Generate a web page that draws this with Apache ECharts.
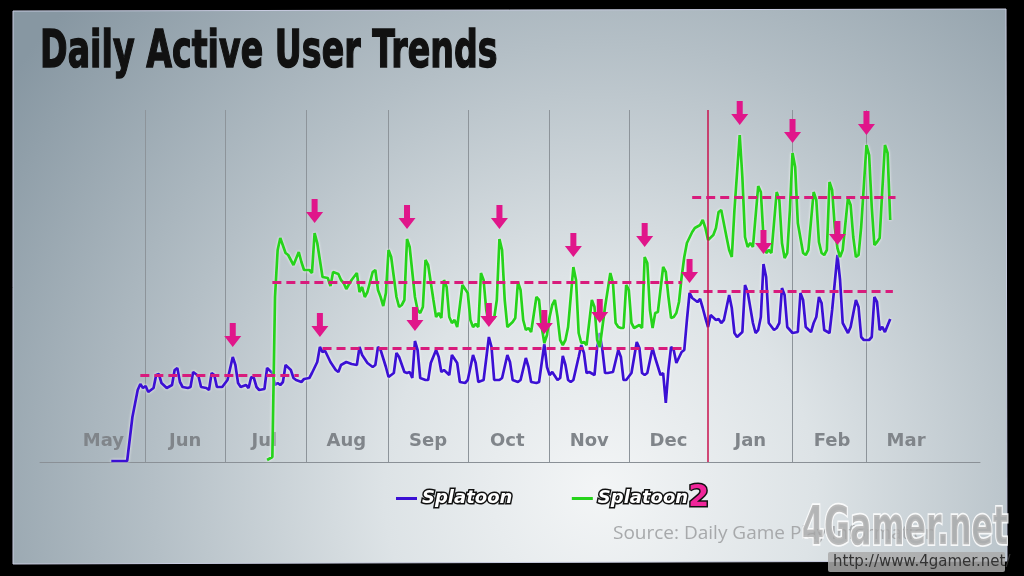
<!DOCTYPE html>
<html>
<head>
<meta charset="utf-8">
<script src="https://cdn.jsdelivr.net/npm/echarts@6/dist/echarts.min.js"></script>
<style>
html,body{margin:0;padding:0;background:#000;}
#chart{width:1024px;height:576px;}
</style>
</head>
<body>
<div id="chart"></div>
<script>
// ---- axis domain: one category per day, starting 2017-04-22 ----
const START_DATE = '2017-04-22';
const DAY_COUNT = 357;
const categories = [];
(function () {
  const t0 = Date.parse(START_DATE + 'T00:00:00Z');
  for (let i = 0; i < DAY_COUNT; i++) {
    categories.push(new Date(t0 + i * 86400000).toISOString().slice(0, 10));
  }
})();

// ---- tick labels (centred mid-month) and month boundary lines ----
const monthLabels = ['May', 'Jun', 'Jul', 'Aug', 'Sep', 'Oct', 'Nov', 'Dec', 'Jan', 'Feb', 'Mar'];
const labelDates = ['2017-05-16', '2017-06-16', '2017-07-16', '2017-08-16', '2017-09-16', '2017-10-16',
  '2017-11-16', '2017-12-16', '2018-01-16', '2018-02-16', '2018-03-16'];
const monthLineDates = ['2017-06-01', '2017-07-01', '2017-08-01', '2017-09-01', '2017-10-01',
  '2017-11-01', '2017-12-01', '2018-02-01', '2018-03-01'];
const yearLineDate = '2017-12-31';

// ---- DAU (relative index), as [day offset from START_DATE, value] ----
const splatoonDAU = [
  [27, 1], [33, 1], [35, 45], [37, 72], [38, 78], [39, 74], [40, 76], [41, 70], [43, 74], [44, 87], [45, 88],
  [46, 79], [48, 74], [50, 77], [51, 92], [52, 94], [53, 80], [54, 75], [56, 74], [57, 75], [58, 90], [60, 86],
  [61, 75], [63, 74], [64, 72], [65, 89], [66, 87], [67, 75], [69, 75], [71, 82], [73, 105], [74, 97], [75, 79],
  [76, 75], [78, 77], [79, 74], [80, 85], [81, 84], [82, 75], [83, 72], [85, 73], [86, 94], [88, 89], [89, 77],
  [90, 79], [91, 77], [92, 80], [93, 97], [95, 92], [96, 84], [97, 82], [99, 80], [100, 83], [102, 84], [103, 89],
  [105, 100], [106, 115], [107, 110], [108, 111], [110, 100], [112, 92], [113, 90], [114, 97], [116, 100],
  [118, 98], [120, 97], [121, 115], [122, 107], [124, 99], [126, 95], [127, 97], [128, 115], [129, 112],
  [131, 95], [132, 85], [134, 89], [135, 109], [136, 105], [138, 90], [139, 89], [140, 90], [141, 84],
  [142, 121], [143, 112], [144, 84], [146, 82], [147, 82], [148, 99], [150, 112], [151, 105], [152, 90],
  [153, 92], [155, 87], [156, 107], [158, 99], [159, 80], [161, 79], [162, 82], [164, 107], [165, 99],
  [166, 80], [168, 82], [170, 125], [171, 115], [172, 82], [174, 82], [175, 84], [177, 107], [178, 100],
  [179, 82], [181, 80], [182, 82], [184, 104], [185, 95], [186, 80], [188, 79], [189, 80], [191, 118],
  [192, 95], [193, 87], [194, 90], [196, 82], [197, 84], [198, 106], [199, 97], [200, 82], [201, 80],
  [202, 82], [204, 105], [205, 117], [206, 109], [207, 89], [208, 90], [210, 87], [211, 115], [212, 129],
  [213, 112], [214, 89], [215, 89], [217, 90], [219, 112], [220, 105], [221, 82], [222, 82], [224, 89],
  [226, 120], [227, 114], [228, 89], [229, 87], [230, 89], [232, 114], [233, 104], [235, 87], [236, 89],
  [237, 59], [238, 92], [239, 115], [240, 112], [241, 99], [243, 110], [244, 112], [245, 142], [246, 169],
  [247, 164], [249, 160], [250, 163], [251, 154], [252, 144], [253, 135], [254, 147], [256, 142], [257, 143],
  [258, 139], [259, 142], [261, 167], [262, 154], [263, 129], [264, 125], [266, 130], [267, 177], [268, 170],
  [270, 139], [271, 129], [272, 132], [273, 145], [274, 198], [275, 185], [276, 139], [278, 132], [279, 134],
  [280, 139], [281, 174], [282, 167], [283, 135], [285, 129], [287, 130], [288, 169], [289, 162], [290, 135],
  [292, 130], [293, 139], [294, 145], [295, 165], [296, 159], [297, 132], [299, 129], [300, 152], [302, 207],
  [303, 182], [304, 139], [306, 129], [307, 135], [309, 162], [310, 155], [311, 125], [312, 122], [314, 122],
  [315, 125], [316, 165], [317, 160], [318, 132], [319, 135], [320, 130], [322, 143]
];
const splatoon2DAU = [
  [86, 2], [88, 5], [89, 165], [90, 212], [91, 224], [93, 209], [94, 207], [96, 197], [98, 210], [99, 200],
  [100, 192], [102, 192], [103, 189], [104, 229], [105, 219], [107, 185], [109, 184], [110, 176], [111, 190],
  [113, 188], [114, 182], [115, 179], [116, 173], [118, 182], [120, 189], [121, 170], [122, 175], [123, 165],
  [124, 170], [126, 190], [127, 192], [128, 172], [129, 165], [130, 156], [131, 169], [132, 212], [133, 205],
  [135, 165], [136, 155], [137, 157], [138, 162], [139, 223], [140, 215], [142, 165], [143, 152], [144, 149],
  [145, 155], [146, 202], [147, 197], [149, 162], [150, 145], [151, 149], [152, 144], [153, 182], [154, 175],
  [155, 145], [156, 139], [157, 142], [158, 135], [160, 177], [162, 169], [163, 142], [164, 135], [165, 138],
  [166, 135], [167, 189], [168, 182], [169, 152], [170, 139], [171, 142], [172, 144], [173, 162], [174, 223],
  [175, 212], [176, 162], [177, 135], [179, 140], [180, 144], [181, 180], [182, 172], [183, 142], [184, 132],
  [185, 134], [186, 130], [188, 165], [189, 162], [190, 135], [191, 119], [192, 127], [193, 145], [194, 157],
  [195, 162], [196, 145], [197, 122], [198, 117], [199, 122], [200, 135], [202, 195], [203, 182], [204, 129],
  [205, 119], [206, 120], [207, 117], [209, 162], [210, 155], [211, 122], [212, 115], [213, 135], [214, 155],
  [216, 189], [217, 179], [218, 139], [219, 135], [220, 134], [221, 134], [222, 177], [223, 172], [224, 139],
  [225, 134], [227, 137], [228, 134], [229, 205], [230, 199], [231, 152], [232, 134], [233, 149], [234, 150],
  [236, 195], [237, 190], [238, 165], [239, 144], [240, 145], [241, 149], [242, 160], [243, 185], [244, 205],
  [245, 219], [247, 230], [248, 234], [250, 237], [251, 242], [252, 234], [253, 222], [255, 227], [256, 234],
  [257, 250], [258, 252], [260, 225], [261, 212], [262, 205], [263, 252], [265, 327], [266, 285], [267, 225],
  [268, 215], [269, 219], [270, 215], [272, 276], [273, 270], [274, 225], [275, 209], [276, 212], [277, 209],
  [279, 270], [280, 262], [281, 219], [282, 204], [283, 209], [284, 252], [285, 309], [286, 295], [287, 239],
  [289, 209], [290, 207], [291, 212], [293, 270], [294, 262], [295, 220], [296, 209], [297, 207], [298, 212],
  [299, 280], [300, 272], [301, 235], [302, 214], [303, 205], [304, 212], [306, 264], [307, 257], [308, 225],
  [309, 205], [310, 207], [311, 235], [313, 317], [314, 307], [315, 255], [316, 217], [317, 220], [318, 224],
  [319, 272], [320, 317], [321, 309], [322, 242]
];

// ---- period levels [from day, to day, level] and highlighted peaks (day offsets) ----
const splatoonLevels = [[38, 98, 86.5], [107, 244, 114], [246, 323, 171]];
const splatoon2Levels = [[88, 243, 180], [247, 324, 265]];
const splatoonPeaks = [73, 106, 142, 170, 191, 212, 246, 274, 302];
const splatoon2Peaks = [104, 139, 174, 202, 229, 265, 285, 313];

const PINK = '#e0168a';
const ARROW = 'path://M5.5,0H11.5V13H17L8.5,24L0,13H5.5Z';

function valueAt(series, day) {
  const p = series.find(d => d[0] === day);
  return p ? p[1] : 0;
}
function levelLines(levels) {
  return levels.map(l => [{ coord: [l[0], l[2]] }, { coord: [l[1], l[2]] }]);
}
function arrows(series, peaks) {
  return peaks.map(d => ({ coord: [d, valueAt(series, d)] }));
}

const chart = echarts.init(document.getElementById('chart'));
const option = {
  animation: false,
  backgroundColor: '#000',
  graphic: [
    {
      type: 'polygon', z: -10, silent: true,
      shape: { points: [[13, 11], [1006, 9], [1007, 561], [13, 564]] },
      style: {
        stroke: '#c9cde2', lineWidth: 1,
        fill: {
          type: 'radial', x: 600, y: 490, r: 720, global: true,
          colorStops: [
            { offset: 0, color: '#f3f5f6' },
            { offset: 0.3, color: '#dde3e6' },
            { offset: 0.62, color: '#b4bfc6' },
            { offset: 1, color: '#8797a2' }
          ]
        }
      }
    },
    {
      type: 'text', x: 40, y: 53, scaleX: 0.64, z: 10, silent: true,
      style: {
        text: 'Daily Active User Trends', fontSize: 52, fontWeight: 'bold',
        fontFamily: 'DejaVu Sans', fill: '#111', stroke: '#111', lineWidth: 1.5,
        verticalAlign: 'middle', align: 'left'
      }
    },
    {
      type: 'text', x: 613, y: 534, z: 10, silent: true,
      style: {
        text: 'Source: Daily Game Play Information', fontSize: 19,
        fontFamily: 'Open Sans', fill: '#a7a9ab', verticalAlign: 'middle', align: 'left'
      }
    },
    {
      type: 'text', x: 802, y: 530, scaleX: 0.66, scaleY: 1.12, z: 11, silent: true,
      style: {
        text: '4Gamer.net', fontSize: 48, fontWeight: 'bold', fontFamily: 'DejaVu Sans',
        fill: 'rgba(165,165,165,0.75)', stroke: 'rgba(255,255,255,0.85)', lineWidth: 3,
        verticalAlign: 'middle', align: 'left'
      }
    },
    {
      type: 'rect', z: 11, silent: true,
      shape: { x: 828, y: 552, width: 177, height: 20, r: 2 },
      style: { fill: 'rgba(170,170,170,0.85)' }
    },
    {
      type: 'text', x: 833, y: 562, z: 12, silent: true,
      style: {
        text: 'http://www.4gamer.net/', fontSize: 15, fontFamily: 'DejaVu Sans',
        fill: '#333', verticalAlign: 'middle', align: 'left'
      }
    }
  ],
  legend: {
    data: ['Splatoon', 'Splatoon 2'],
    left: 391, top: 477,
    icon: 'rect', itemWidth: 21, itemHeight: 3, itemGap: 58,
    formatter: name => name === 'Splatoon 2' ? '{s|Splatoon}{n|2}' : '{s|Splatoon}',
    textStyle: {
      rich: {
        s: {
          fontFamily: 'DejaVu Sans', fontWeight: 'bold', fontStyle: 'italic', fontSize: 18,
          color: '#fff', textBorderColor: '#111', textBorderWidth: 3,
          textShadowColor: '#e6e000', textShadowOffsetX: 1.5, textShadowOffsetY: 1.5, textShadowBlur: 0
        },
        n: {
          fontFamily: 'DejaVu Sans', fontWeight: 'bold', fontSize: 30, color: '#f0259a',
          textBorderColor: '#111', textBorderWidth: 3
        }
      }
    }
  },
  grid: { left: 40, right: 44, top: 110, bottom: 114 },
  xAxis: {
    type: 'category', data: categories, boundaryGap: false,
    axisLine: { lineStyle: { color: '#8a9096', width: 1 } },
    axisTick: { show: false },
    axisLabel: {
      inside: true, margin: 12,
      interval: (i, v) => labelDates.indexOf(v) >= 0,
      formatter: v => monthLabels[labelDates.indexOf(v)],
      color: '#80858a', fontSize: 18, fontWeight: 'bold', fontFamily: 'DejaVu Sans'
    },
    splitLine: {
      show: true,
      interval: (i, v) => monthLineDates.indexOf(v) >= 0,
      lineStyle: { color: '#8d949a', width: 1 }
    }
  },
  yAxis: { type: 'value', min: 0, max: 352, show: false, splitLine: { show: false } },
  series: [
    {
      name: 'Splatoon', type: 'line', data: splatoonDAU, symbol: 'none', color: '#3b10d4',
      lineStyle: { width: 2.7, color: '#3b10d4', shadowColor: 'rgba(255,255,255,0.9)', shadowBlur: 3 },
      z: 3,
      markLine: {
        silent: true, symbol: 'none', label: { show: false },
        lineStyle: { color: '#d81b7c', width: 3, type: [9, 5] },
        data: levelLines(splatoonLevels).concat([
          { xAxis: yearLineDate, lineStyle: { color: '#c8124e', width: 1.5, type: 'solid' } }
        ])
      },
      markPoint: {
        silent: true, symbol: ARROW, symbolSize: [17, 24], symbolOffset: [0, -22],
        label: { show: false }, itemStyle: { color: PINK },
        data: arrows(splatoonDAU, splatoonPeaks)
      }
    },
    {
      name: 'Splatoon 2', type: 'line', data: splatoon2DAU, symbol: 'none', color: '#26d31b',
      lineStyle: { width: 2.7, color: '#26d31b', shadowColor: 'rgba(255,255,255,0.9)', shadowBlur: 3 },
      z: 4,
      markLine: {
        silent: true, symbol: 'none', label: { show: false },
        lineStyle: { color: '#d81b7c', width: 3, type: [9, 5] },
        data: levelLines(splatoon2Levels)
      },
      markPoint: {
        silent: true, symbol: ARROW, symbolSize: [17, 24], symbolOffset: [0, -22],
        label: { show: false }, itemStyle: { color: PINK },
        data: arrows(splatoon2DAU, splatoon2Peaks)
      }
    }
  ]
};
chart.setOption(option);
</script>
</body>
</html>
